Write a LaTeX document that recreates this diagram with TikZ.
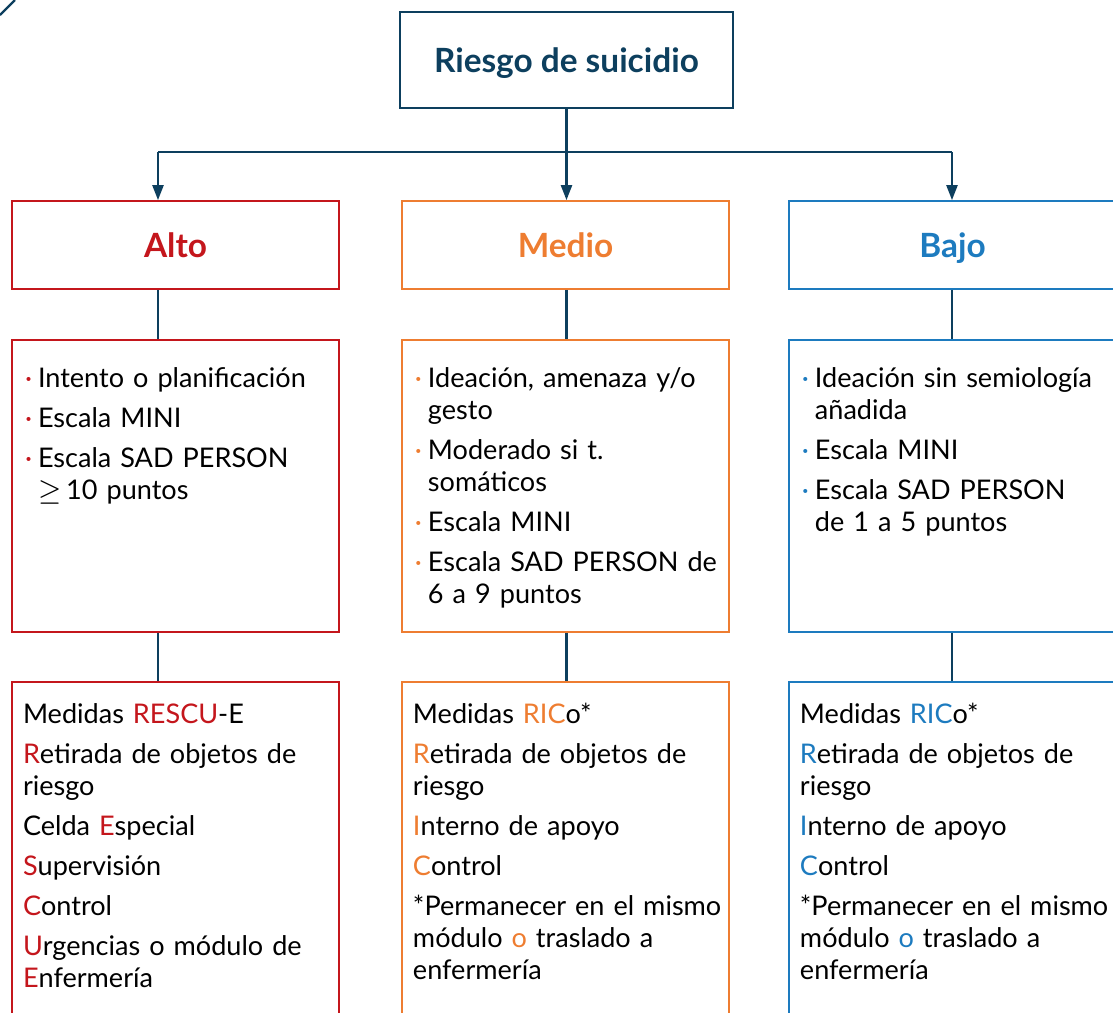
\documentclass[tikz,border=0pt]{standalone}
\usepackage{fontspec}
\setmainfont{Lato}
\usetikzlibrary{arrows.meta}

\definecolor{navy}{HTML}{0D3F5E}
\definecolor{altoRed}{HTML}{C4161C}
\definecolor{medioOrange}{HTML}{EE7D31}
\definecolor{bajoBlue}{HTML}{1D7BBF}

% one line of a box: bullet line, continued line, plain line
\newcommand{\bitem}[2]{\hbox{\hspace*{0.13cm}\makebox[0.13cm][l]{\textcolor{#1}{·}}#2}}
\newcommand{\bcont}[1]{\hbox{\hspace*{0.26cm}#1}}
\newcommand{\mline}[1]{\hbox{\hspace*{0.11cm}#1}}
\newcommand{\itemgap}{\vskip0.08cm}
\newcommand{\boxtext}[3]{\vbox to #1{\baselineskip=0.32cm\lineskiplimit=-\maxdimen
    \hbox{}\vskip#2 #3\vfill}}

\begin{document}
\begin{tikzpicture}[
        font=\fontsize{7.7}{9.1}\selectfont,
        link/.style={draw=navy, line width=0.65pt},
        arr/.style={link, -{Triangle[width=0.11cm,length=0.15cm]}},
        title/.style={draw=navy, line width=0.5pt, text=navy, font=\bfseries\fontsize{9.5}{11}\selectfont,
            minimum width=3.33cm, minimum height=0.96cm, text height=0.24cm, text depth=0pt, inner sep=0pt},
        head/.style={draw=#1, line width=0.5pt, text=#1, font=\bfseries\fontsize{9.5}{11}\selectfont,
            minimum width=3.27cm, minimum height=0.88cm, text height=0.24cm, text depth=0pt, inner sep=0pt},
        crit/.style={draw=#1, line width=0.5pt, inner sep=0pt, text width=3.27cm, anchor=north}
    ]
        \useasboundingbox (0,0) rectangle (11.13,-10.12);
        \clip (0,0) rectangle (11.13,-10.12);

        % corner mark
        \draw[link] (0,-0.15) -- (0.15,0);

        % top box and level boxes
        \node[title] (riesgo) at (5.665,-0.60) {Riesgo de suicidio};
        \node[head=altoRed] (alto) at (1.755,-2.45) {Alto};
        \node[head=medioOrange] (medio) at (5.655,-2.45) {Medio};
        \node[head=bajoBlue] (bajo) at (9.525,-2.45) {Bajo};

        % criteria
        \node[crit=altoRed] (alto-crit) at (1.755,-3.39) {\boxtext{2.92cm}{0.16cm}{%
            \bitem{altoRed}{Intento o planificación}\itemgap
            \bitem{altoRed}{Escala MINI}\itemgap
            \bitem{altoRed}{Escala SAD PERSON}
            \bcont{$\geq$\hspace{0.05cm}10 puntos}}};
        \node[crit=medioOrange] (medio-crit) at (5.655,-3.39) {\boxtext{2.92cm}{0.16cm}{%
            \bitem{medioOrange}{Ideación, amenaza y/o}
            \bcont{gesto}\itemgap
            \bitem{medioOrange}{Moderado si t.}
            \bcont{somáticos}\itemgap
            \bitem{medioOrange}{Escala MINI}\itemgap
            \bitem{medioOrange}{Escala SAD PERSON de}
            \bcont{6 a 9 puntos}}};
        \node[crit=bajoBlue] (bajo-crit) at (9.525,-3.39) {\boxtext{2.92cm}{0.16cm}{%
            \bitem{bajoBlue}{Ideación sin semiología}
            \bcont{añadida}\itemgap
            \bitem{bajoBlue}{Escala MINI}\itemgap
            \bitem{bajoBlue}{Escala SAD PERSON}
            \bcont{de 1 a 5 puntos}}};

        % measures (run off the bottom)
        \node[crit=altoRed] (alto-med) at (1.755,-6.81) {\boxtext{3.8cm}{0.10cm}{%
            \mline{Medidas \textcolor{altoRed}{RESCU}-E}\itemgap
            \mline{\textcolor{altoRed}{R}etirada de objetos de}
            \mline{riesgo}\itemgap
            \mline{Celda \textcolor{altoRed}{E}special}\itemgap
            \mline{\textcolor{altoRed}{S}upervisión}\itemgap
            \mline{\textcolor{altoRed}{C}ontrol}\itemgap
            \mline{\textcolor{altoRed}{U}rgencias o módulo de}
            \mline{\textcolor{altoRed}{E}nfermería}}};
        \foreach \n/\c in {medio/medioOrange, bajo/bajoBlue}
            \node[crit=\c] (\n-med) at (\n-crit.south |- 0,-6.81) {\boxtext{3.8cm}{0.10cm}{%
                \mline{Medidas \textcolor{\c}{RIC}o*}\itemgap
                \mline{\textcolor{\c}{R}etirada de objetos de}
                \mline{riesgo}\itemgap
                \mline{\textcolor{\c}{I}nterno de apoyo}\itemgap
                \mline{\textcolor{\c}{C}ontrol}\itemgap
                \mline{*Permanecer en el mismo}
                \mline{módulo \textcolor{\c}{o} traslado a}
                \mline{enfermería}}};

        % connectors
        \foreach \n/\x in {alto/1.58, medio/5.665, bajo/9.52} {
            \coordinate (\n-x) at (\x,-1.52);
            \draw[arr] (\n-x) -- (\n-x |- \n.north);
            \draw[link] (\n-x |- \n.south) -- (\n-x |- \n-crit.north);
            \draw[link] (\n-x |- \n-crit.south) -- (\n-x |- \n-med.north);
        }
        \draw[link] (riesgo.south) -- (medio-x);
        \draw[link] (alto-x) -- (bajo-x);
    \end{tikzpicture}
\end{document}
